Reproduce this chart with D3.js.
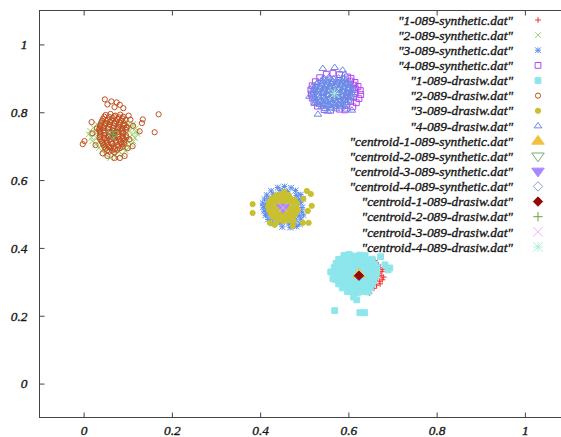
<!DOCTYPE html>
<html>
<head>
<meta charset="utf-8">
<script src="https://cdn.jsdelivr.net/npm/d3@7"></script>
<style>
  body { margin: 0; background: #fff; }
  svg { display: block; }
</style>
</head>
<body>
<svg id="chart" width="561" height="437"></svg>
<script>
// cluster points, [x, y]
const syn1 = [
  [0.640,0.366],[0.660,0.363],[0.600,0.352],[0.655,0.354],[0.668,0.350],[0.610,0.341],[0.662,0.338],
  [0.672,0.342],[0.678,0.337],[0.630,0.329],[0.668,0.326],[0.676,0.330],[0.665,0.316],[0.674,0.318],
  [0.680,0.314],[0.660,0.305],[0.670,0.302],[0.677,0.306],[0.650,0.293],[0.664,0.290],[0.672,0.294],
  [0.600,0.280],[0.615,0.278],[0.630,0.282],[0.645,0.279],[0.658,0.281],[0.605,0.270],[0.620,0.268],
  [0.635,0.271],[0.648,0.267],[0.585,0.300],[0.590,0.330],[0.620,0.300],[0.640,0.340]
];
const syn2 = [
  [0.045,0.775],[0.070,0.778],[0.095,0.773],[0.030,0.765],[0.060,0.768],[0.100,0.763],[0.112,0.766],
  [0.022,0.755],[0.040,0.757],[0.085,0.753],[0.108,0.756],[0.118,0.752],[0.015,0.745],[0.033,0.743],
  [0.105,0.746],[0.120,0.742],[0.012,0.735],[0.025,0.737],[0.110,0.734],[0.122,0.736],[0.018,0.725],
  [0.030,0.723],[0.104,0.726],[0.116,0.724],[0.020,0.715],[0.035,0.713],[0.100,0.716],[0.113,0.714],
  [0.028,0.705],[0.040,0.703],[0.098,0.706],[0.108,0.704],[0.035,0.695],[0.048,0.697],[0.090,0.694],
  [0.102,0.696],[0.042,0.685],[0.060,0.687],[0.080,0.684],[0.095,0.686],[0.050,0.675],[0.068,0.673],
  [0.088,0.676],[0.060,0.665],[0.075,0.667]
];
const syn3 = [
  [0.440,0.578],[0.455,0.581],[0.470,0.577],[0.425,0.568],[0.445,0.570],[0.462,0.566],[0.480,0.569],
  [0.415,0.556],[0.430,0.558],[0.482,0.555],[0.492,0.557],[0.410,0.544],[0.420,0.546],[0.488,0.543],
  [0.497,0.545],[0.406,0.532],[0.415,0.530],[0.492,0.533],[0.407,0.520],[0.413,0.522],[0.495,0.519],
  [0.409,0.508],[0.416,0.510],[0.494,0.507],[0.412,0.496],[0.420,0.498],[0.488,0.495],[0.498,0.497],
  [0.418,0.484],[0.428,0.486],[0.480,0.483],[0.492,0.485],[0.430,0.472],[0.445,0.474],[0.465,0.471],
  [0.478,0.473],[0.490,0.470],[0.450,0.462],[0.468,0.460],[0.482,0.463]
];
const syn4 = [
  [0.550,0.912],[0.565,0.915],[0.580,0.911],[0.535,0.902],[0.598,0.904],[0.606,0.900],[0.525,0.890],
  [0.605,0.892],[0.615,0.888],[0.518,0.878],[0.612,0.880],[0.622,0.876],[0.515,0.866],[0.617,0.868],
  [0.627,0.864],[0.516,0.854],[0.615,0.856],[0.628,0.852],[0.518,0.842],[0.612,0.844],[0.624,0.840],
  [0.522,0.830],[0.605,0.832],[0.618,0.828],[0.530,0.818],[0.595,0.820],[0.610,0.816],[0.545,0.808],
  [0.560,0.806],[0.580,0.809],[0.592,0.807],[0.600,0.870],[0.595,0.845]
];
const dra1 = [
  [0.590,0.378],[0.602,0.381],[0.614,0.376],[0.626,0.379],[0.638,0.377],
  [0.578,0.366],[0.589,0.368],[0.600,0.364],[0.611,0.367],[0.622,0.365],[0.633,0.368],[0.644,0.364],[0.654,0.367],
  [0.572,0.354],[0.583,0.352],[0.594,0.356],[0.605,0.353],[0.616,0.355],[0.627,0.351],[0.638,0.354],[0.649,0.356],[0.660,0.352],
  [0.568,0.342],[0.579,0.344],[0.590,0.340],[0.601,0.343],[0.612,0.341],[0.623,0.344],[0.634,0.340],[0.645,0.343],[0.656,0.341],[0.665,0.344],
  [0.567,0.330],[0.578,0.328],[0.589,0.332],[0.600,0.329],[0.611,0.331],[0.622,0.327],[0.633,0.330],[0.644,0.332],[0.655,0.328],[0.664,0.331],
  [0.568,0.318],[0.579,0.320],[0.590,0.316],[0.601,0.319],[0.612,0.317],[0.623,0.320],[0.634,0.316],[0.645,0.319],[0.656,0.317],[0.663,0.320],
  [0.572,0.306],[0.583,0.304],[0.594,0.308],[0.605,0.305],[0.616,0.307],[0.627,0.303],[0.638,0.306],[0.649,0.308],[0.658,0.304],
  [0.578,0.294],[0.589,0.296],[0.600,0.292],[0.611,0.295],[0.622,0.293],[0.633,0.296],[0.644,0.292],[0.654,0.295],
  [0.586,0.282],[0.597,0.284],[0.608,0.280],[0.619,0.283],[0.630,0.281],[0.641,0.284],[0.650,0.282],
  [0.598,0.271],[0.610,0.273],[0.622,0.269],[0.634,0.272],[0.645,0.270],
  [0.694,0.341],[0.683,0.350],[0.690,0.335],[0.565,0.309],[0.569,0.215],[0.560,0.329],[0.619,0.247],
  [0.626,0.209],[0.637,0.209],[0.612,0.255],[0.673,0.374]
];
const dra2 = [
  [0.050,0.792],[0.061,0.795],[0.072,0.790],[0.083,0.793],
  [0.044,0.781],[0.055,0.778],[0.066,0.783],[0.077,0.780],[0.088,0.782],[0.095,0.777],
  [0.040,0.770],[0.051,0.768],[0.060,0.772],[0.070,0.769],[0.081,0.771],[0.092,0.767],
  [0.037,0.759],[0.047,0.761],[0.057,0.757],[0.068,0.760],[0.079,0.758],[0.089,0.761],[0.098,0.756],
  [0.035,0.748],[0.045,0.746],[0.055,0.750],[0.066,0.747],[0.076,0.749],[0.086,0.745],[0.096,0.748],
  [0.038,0.737],[0.048,0.739],[0.059,0.735],[0.069,0.738],[0.080,0.736],[0.090,0.739],
  [0.036,0.726],[0.046,0.724],[0.056,0.728],[0.067,0.725],[0.078,0.727],[0.088,0.723],[0.097,0.726],
  [0.041,0.715],[0.052,0.717],[0.062,0.713],[0.073,0.716],[0.084,0.714],[0.093,0.717],
  [0.045,0.704],[0.055,0.702],[0.065,0.706],[0.076,0.703],[0.087,0.705],
  [0.050,0.693],[0.061,0.695],[0.071,0.691],[0.082,0.694],[0.058,0.684],[0.070,0.682],
  [0.047,0.787],[0.058,0.786],[0.069,0.788],[0.080,0.785],[0.090,0.787],
  [0.042,0.775],[0.052,0.774],[0.063,0.776],[0.074,0.773],[0.085,0.776],
  [0.039,0.764],[0.049,0.765],[0.059,0.763],[0.070,0.766],[0.081,0.764],[0.092,0.762],
  [0.036,0.753],[0.046,0.755],[0.056,0.752],[0.067,0.754],[0.078,0.753],[0.088,0.751],[0.097,0.754],
  [0.037,0.742],[0.047,0.743],[0.058,0.741],[0.068,0.744],[0.078,0.742],[0.089,0.741],
  [0.037,0.731],[0.047,0.733],[0.057,0.730],[0.068,0.732],[0.079,0.731],[0.089,0.729],[0.096,0.732],
  [0.038,0.720],[0.048,0.721],[0.059,0.719],[0.070,0.722],[0.081,0.720],[0.091,0.721],
  [0.043,0.709],[0.053,0.710],[0.064,0.708],[0.074,0.711],[0.085,0.709],[0.092,0.710],
  [0.047,0.698],[0.058,0.699],[0.068,0.697],[0.079,0.700],[0.088,0.698],
  [0.054,0.688],[0.065,0.687],[0.076,0.689],
  [0.048,0.838],[0.063,0.832],[0.075,0.829],[0.082,0.822],[0.054,0.823],[0.090,0.812],[0.070,0.815],
  [0.134,0.779],[0.132,0.768],[0.170,0.794],[0.161,0.741],[0.127,0.744],[0.112,0.760],
  [-0.002,0.706],[0.002,0.715],[0.018,0.771],[0.020,0.738],[0.027,0.703],[0.030,0.752],
  [0.054,0.671],[0.070,0.665],[0.082,0.665],[0.093,0.671],[0.043,0.679],
  [0.100,0.694],[0.111,0.700],[0.104,0.720],[0.106,0.778],[0.102,0.790]
];
const dra3 = [
  [0.435,0.555],[0.445,0.558],[0.455,0.553],[0.465,0.556],
  [0.425,0.545],[0.436,0.543],[0.447,0.547],[0.458,0.544],[0.469,0.546],[0.478,0.542],
  [0.420,0.534],[0.430,0.536],[0.441,0.532],[0.452,0.535],[0.463,0.533],[0.474,0.536],[0.484,0.531],
  [0.418,0.523],[0.428,0.521],[0.439,0.525],[0.450,0.522],[0.461,0.524],[0.472,0.520],[0.482,0.523],
  [0.420,0.512],[0.431,0.514],[0.442,0.510],[0.453,0.513],[0.464,0.511],[0.475,0.514],[0.486,0.510],
  [0.424,0.501],[0.435,0.499],[0.446,0.503],[0.457,0.500],[0.468,0.502],[0.479,0.498],
  [0.430,0.490],[0.441,0.492],[0.452,0.488],[0.463,0.491],[0.474,0.489],
  [0.440,0.480],[0.452,0.478],[0.464,0.481],[0.476,0.479],
  [0.383,0.529],[0.383,0.503],[0.506,0.568],[0.515,0.559],[0.517,0.524],[0.508,0.509],[0.497,0.474],
  [0.510,0.474],[0.422,0.474],[0.433,0.468],[0.474,0.465],[0.498,0.545],[0.455,0.566]
];
const dra4 = [
  [0.545,0.900],[0.556,0.903],[0.567,0.898],[0.578,0.901],[0.589,0.899],
  [0.532,0.889],[0.543,0.891],[0.554,0.887],[0.565,0.890],[0.576,0.888],[0.587,0.891],[0.598,0.887],
  [0.525,0.877],[0.536,0.875],[0.547,0.879],[0.558,0.876],[0.569,0.878],[0.580,0.874],[0.591,0.877],[0.602,0.879],
  [0.522,0.865],[0.533,0.867],[0.544,0.863],[0.555,0.866],[0.566,0.864],[0.577,0.867],[0.588,0.863],[0.599,0.866],[0.608,0.864],
  [0.520,0.853],[0.531,0.851],[0.542,0.855],[0.553,0.852],[0.564,0.854],[0.575,0.850],[0.586,0.853],[0.597,0.855],[0.606,0.851],
  [0.524,0.841],[0.535,0.843],[0.546,0.839],[0.557,0.842],[0.568,0.840],[0.579,0.843],[0.590,0.839],[0.601,0.842],
  [0.530,0.829],[0.541,0.827],[0.552,0.831],[0.563,0.828],[0.574,0.830],[0.585,0.826],[0.596,0.829],
  [0.540,0.817],[0.551,0.819],[0.562,0.815],[0.573,0.818],[0.584,0.816],
  [0.540,0.895],[0.551,0.894],[0.562,0.896],[0.573,0.893],[0.584,0.895],[0.594,0.894],
  [0.528,0.883],[0.539,0.884],[0.550,0.882],[0.561,0.885],[0.572,0.883],[0.583,0.882],[0.594,0.884],[0.604,0.883],
  [0.523,0.871],[0.534,0.872],[0.545,0.870],[0.556,0.873],[0.567,0.871],[0.578,0.870],[0.589,0.872],[0.600,0.871],[0.610,0.870],
  [0.521,0.859],[0.532,0.860],[0.543,0.858],[0.554,0.861],[0.565,0.859],[0.576,0.858],[0.587,0.860],[0.598,0.859],[0.607,0.858],
  [0.522,0.847],[0.533,0.848],[0.544,0.846],[0.555,0.849],[0.566,0.847],[0.577,0.846],[0.588,0.848],[0.599,0.847],[0.605,0.846],
  [0.527,0.835],[0.538,0.836],[0.549,0.834],[0.560,0.837],[0.571,0.835],[0.582,0.834],[0.593,0.836],[0.600,0.835],
  [0.535,0.823],[0.546,0.824],[0.557,0.822],[0.568,0.825],[0.579,0.823],[0.590,0.822],
  [0.548,0.811],[0.560,0.812],[0.572,0.810],
  [0.542,0.929],[0.569,0.932],[0.587,0.924],[0.592,0.912],[0.519,0.876],[0.524,0.826],[0.531,0.794],
  [0.553,0.803],[0.596,0.809],[0.608,0.806],[0.512,0.847]
];
const cSyn1 = [[0.624,0.322]];
const cSyn2 = [[0.066,0.734]];
const cSyn3 = [[0.452,0.519]];
const cSyn4 = [[0.569,0.856]];
const cDra1 = [[0.624,0.318]];
const cDra2 = [[0.066,0.734]];
const cDra3 = [[0.452,0.519]];
const cDra4 = [[0.569,0.856]];

const labels = [
  '"1-089-synthetic.dat"', '"2-089-synthetic.dat"', '"3-089-synthetic.dat"', '"4-089-synthetic.dat"',
  '"1-089-drasiw.dat"', '"2-089-drasiw.dat"', '"3-089-drasiw.dat"', '"4-089-drasiw.dat"',
  '"centroid-1-089-synthetic.dat"', '"centroid-2-089-synthetic.dat"',
  '"centroid-3-089-synthetic.dat"', '"centroid-4-089-synthetic.dat"',
  '"centroid-1-089-drasiw.dat"', '"centroid-2-089-drasiw.dat"',
  '"centroid-3-089-drasiw.dat"', '"centroid-4-089-drasiw.dat"'
];
const xTicks = [0, 0.2, 0.4, 0.6, 0.8, 1];
const yTicks = [0, 0.2, 0.4, 0.6, 0.8, 1];

const series = [syn1, syn2, syn3, syn4, dra1, dra2, dra3, dra4,
  cSyn1, cSyn2, cSyn3, cSyn4, cDra1, cDra2, cDra3, cDra4];

// gnuplot point types 1..16
const COLORS = ['#f03030', '#98d068', '#5a8cf0', '#b448f0', '#8ce6ec', '#c05020', '#c8c030', '#6a8ae6',
  '#f2c040', '#70b070', '#a888ff', '#8aa0c8', '#900a0a', '#70a040', '#f0b0f0', '#a8f0d8'];
const SHAPES = ['plus', 'cross', 'star', 'box', 'fbox', 'circle', 'fcircle', 'tri',
  'ftri', 'dtri', 'fdtri', 'diamond', 'fdiamond', 'plus', 'cross', 'star'];
const SMALL = 2.9;
const BIG = 4.7;
const FONT = '"Liberation Serif", serif';
const AXIS_COLOR = '#444';
const TEXT_COLOR = '#161616';

const svg = d3.select('#chart');
const margin = { left: 39.5, top: 10.5, bottom: 19.5 };
const height = +svg.attr('height');

const x = d3.scaleLinear().domain([-0.1, 1.1]).range([margin.left, margin.left + 529.5]);
const y = d3.scaleLinear().domain([-0.1, 1.1]).range([height - margin.bottom, margin.top]);

function symbolPath(shape, s) {
  const r = s * 0.9;
  switch (shape) {
    case 'plus': return `M${-s},0H${s}M0,${-s}V${s}`;
    case 'cross': return `M${-s},${-s}L${s},${s}M${-s},${s}L${s},${-s}`;
    case 'star': return `M${-s},0H${s}M0,${-s}V${s}M${-s},${-s}L${s},${s}M${-s},${s}L${s},${-s}`;
    case 'box':
    case 'fbox': return `M${-s},${-s}H${s}V${s}H${-s}Z`;
    case 'circle':
    case 'fcircle': return `M${-r},0A${r},${r} 0 1,0 ${r},0A${r},${r} 0 1,0 ${-r},0Z`;
    case 'tri':
    case 'ftri': return `M0,${-1.2 * s}L${1.33 * s},${0.67 * s}L${-1.33 * s},${0.67 * s}Z`;
    case 'dtri':
    case 'fdtri': return `M0,${1.2 * s}L${1.33 * s},${-0.67 * s}L${-1.33 * s},${-0.67 * s}Z`;
    default: return `M0,${-s}L${s},0L0,${s}L${-s},0Z`;
  }
}

function drawSymbol(g, i) {
  const shape = SHAPES[i];
  const filled = shape.startsWith('f');
  g.append('path')
    .attr('d', symbolPath(shape, i < 8 ? SMALL : BIG))
    .attr('fill', filled ? COLORS[i] : 'none')
    .attr('stroke', COLORS[i])
    .attr('stroke-width', 1);
}

function styleText(sel) {
  sel.attr('fill', TEXT_COLOR)
    .attr('stroke', TEXT_COLOR)
    .attr('stroke-width', 0.35)
    .attr('font-family', FONT)
    .attr('font-style', 'italic')
    .attr('font-size', 13.4);
}

svg.append('clipPath').attr('id', 'plot-clip')
  .append('rect')
  .attr('x', x(-0.1)).attr('y', y(1.1))
  .attr('width', x(1.1) - x(-0.1)).attr('height', y(-0.1) - y(1.1));

// axes with inward ticks, mirrored on top
const axisStyle = g => {
  g.select('.domain').remove();
  g.selectAll('.tick line').attr('stroke', AXIS_COLOR);
  g.selectAll('.tick text').call(styleText);
};

svg.append('g')
  .attr('transform', `translate(0,${y(-0.1)})`)
  .call(d3.axisBottom(x).tickValues(xTicks).tickSize(-5).tickPadding(8).tickFormat(d3.format('~g')))
  .call(axisStyle);

svg.append('g')
  .attr('transform', `translate(0,${y(1.1)})`)
  .call(d3.axisTop(x).tickValues(xTicks).tickSize(-5).tickFormat(''))
  .call(axisStyle);

svg.append('g')
  .attr('transform', `translate(${x(-0.1)},0)`)
  .call(d3.axisLeft(y).tickValues(yTicks).tickSize(-5).tickPadding(12).tickFormat(d3.format('~g')))
  .call(axisStyle);

svg.append('rect')
  .attr('x', x(-0.1)).attr('y', y(1.1))
  .attr('width', x(1.1) - x(-0.1)).attr('height', y(-0.1) - y(1.1))
  .attr('fill', 'none')
  .attr('stroke', AXIS_COLOR)
  .attr('stroke-width', 1);

// points
const plot = svg.append('g').attr('clip-path', 'url(#plot-clip)');
series.forEach((pts, i) => {
  pts.forEach(d => {
    const g = plot.append('g').attr('transform', `translate(${x(d[0])},${y(d[1])})`);
    drawSymbol(g, i);
  });
});

// key, top right
const legendTop = 20;
const legendStep = 15.13;
labels.forEach((label, i) => {
  const ly = legendTop + i * legendStep;
  svg.append('text')
    .attr('x', 513)
    .attr('y', ly)
    .attr('dy', '0.35em')
    .attr('text-anchor', 'end')
    .call(styleText)
    .text(label);
  const g = svg.append('g').attr('transform', `translate(538,${ly})`);
  drawSymbol(g, i);
});
</script>
</body>
</html>
